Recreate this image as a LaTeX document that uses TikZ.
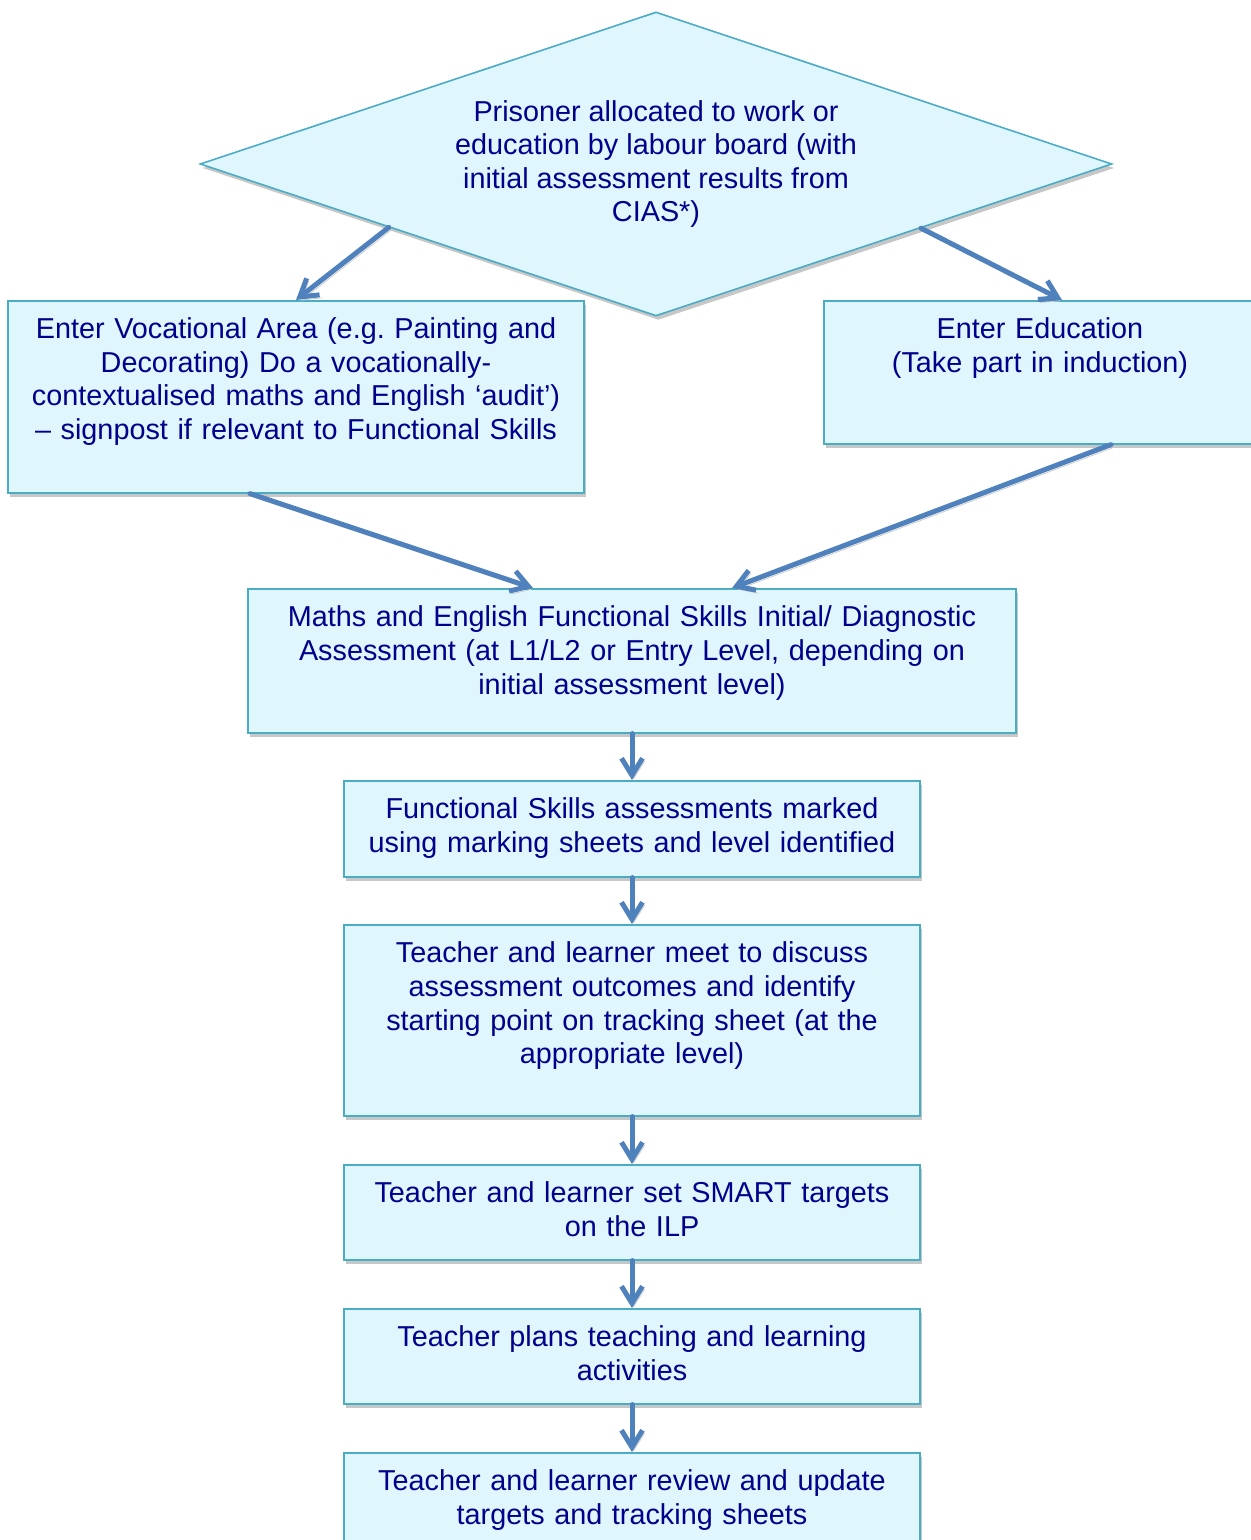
\documentclass[tikz,border=0pt]{standalone}
\usepackage{fontspec}
\setmainfont{Liberation Sans}
\usetikzlibrary{shapes.geometric,shadows,arrows.meta,calc}
\definecolor{boxfill}{RGB}{224,246,253}
\definecolor{boxline}{RGB}{75,172,198}
\definecolor{txtblue}{RGB}{0,0,140}
\definecolor{arrblue}{RGB}{79,129,189}

\begin{document}
\begin{tikzpicture}[x=0.5pt,y=-0.5pt,
  boxshadow/.style={drop shadow={shadow xshift=1.2pt,shadow yshift=-2pt,fill=black!22,opacity=1}},
  decision/.style={shape=diamond,draw=boxline,fill=boxfill,line width=0.8pt,text=txtblue,
    font=\fontsize{14.4pt}{16.8pt}\selectfont,align=center,aspect=3,inner sep=0pt,
    minimum width=456pt,minimum height=152pt,boxshadow},
  flowbox/.style={draw=boxline,fill=boxfill,line width=0.8pt,text=txtblue,
    font=\fontsize{14.4pt}{16.8pt}\selectfont,align=center,anchor=north,
    inner xsep=4pt,inner ysep=9pt,text height=10pt,boxshadow},
  flowarr/.style={draw=arrblue,line width=2.5pt,line cap=round,
    -{Straight Barb[length=8.5pt,width=10.5pt]},
    preaction={draw=black!20,transform canvas={xshift=1pt,yshift=-1.5pt}}}]
\useasboundingbox (0,0) rectangle (1251,1540);

% decision
\node[decision] (prison) at (656,164) {Prisoner allocated to work or\\education by labour board (with\\initial assessment results from\\CIAS*)};

% two routes
\node[flowbox,text width=280pt,text depth=68pt] (voc) at (296,300) {Enter Vocational Area (e.g.\ Painting and\\Decorating) Do a vocationally-\\contextualised maths and English ‘audit’)\\– signpost if relevant to Functional Skills};
\node[flowbox,text width=208pt,text depth=43.5pt] (edu) at (1040,300) {Enter Education\\(Take part in induction)};

% main column
\node[flowbox,text width=376pt,text depth=44pt] (diag) at (632,588) {Maths and English Functional Skills Initial/ Diagnostic\\Assessment (at L1/L2 or Entry Level, depending on\\initial assessment level)};
\node[flowbox,text width=280pt,text depth=20pt] (marked) at (632,780) {Functional Skills assessments marked\\using marking sheets and level identified};
\node[flowbox,text width=280pt,text depth=67.5pt] (meet) at (632,924) {Teacher and learner meet to discuss\\assessment outcomes and identify\\starting point on tracking sheet (at the\\appropriate level)};
\node[flowbox,text width=280pt,text depth=19.5pt] (smart) at (632,1164) {Teacher and learner set SMART targets\\on the ILP};
\node[flowbox,text width=280pt,text depth=19.5pt] (plans) at (632,1308) {Teacher plans teaching and learning\\activities};
\node[flowbox,text width=280pt,text depth=20pt] (review) at (632,1452) {Teacher and learner review and update\\targets and tracking sheets};

\draw[flowarr] ($(prison.west)!0.415!(prison.south)$) -- (voc.north);
\draw[flowarr] ($(prison.south)!0.58!(prison.east)$) -- ($(edu.north)+(22,0)$);
\draw[flowarr] ($(voc.south)+(-46,0)$) -- ($(diag.north)+(-99,0)$);
\draw[flowarr] ($(edu.south)+(71,0)$) -- ($(diag.north)+(100,0)$);

\foreach \a/\b in {diag/marked,marked/meet,meet/smart,smart/plans,plans/review}
  \draw[flowarr] (\a) -- (\b);
\end{tikzpicture}
\end{document}
